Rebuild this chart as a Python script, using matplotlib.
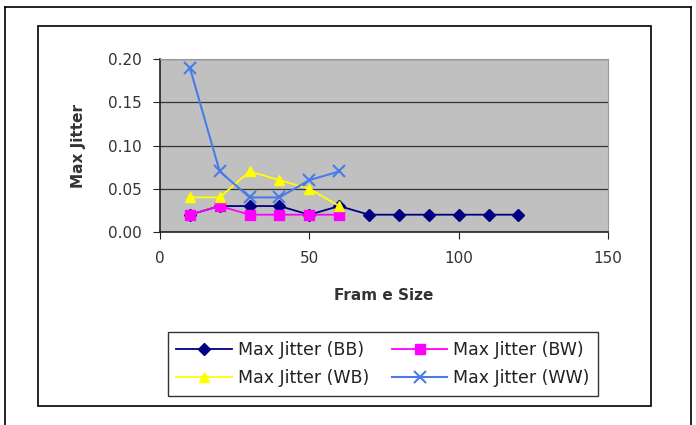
import matplotlib
matplotlib.use("Agg")
import matplotlib.pyplot as plt
from matplotlib.lines import Line2D

# data
frame_bb = [10, 20, 30, 40, 50, 60, 70, 80, 90, 100, 110, 120]
jitter_bb = [0.02, 0.03, 0.03, 0.03, 0.02, 0.03, 0.02, 0.02, 0.02, 0.02, 0.02, 0.02]
frame_short = [10, 20, 30, 40, 50, 60]
jitter_bw = [0.02, 0.03, 0.02, 0.02, 0.02, 0.02]
jitter_wb = [0.04, 0.04, 0.07, 0.06, 0.05, 0.03]
jitter_ww = [0.19, 0.07, 0.04, 0.04, 0.06, 0.07]

plt.rcParams['font.family'] = ['DejaVu Sans']
text_col = '#333333'

W, H = 696, 425
fig = plt.figure(figsize=(W / 100, H / 100), dpi=100)

def px(x, y):
    return x / W, 1 - y / H

# outer and inner frames
ox0, oy0 = px(5, 7)
ox1, _ = px(691, 7)
fig.add_artist(Line2D([ox0, ox1], [oy0, oy0], color='black', lw=1.2))
fig.add_artist(Line2D([ox0, ox0], [oy0, 0], color='black', lw=1.2))
fig.add_artist(Line2D([ox1, ox1], [oy0, 0], color='black', lw=1.2))
ix0, iy0 = px(38, 26)
ix1, iy1 = px(651, 406)
fig.add_artist(plt.Rectangle((ix0, iy1), ix1 - ix0, iy0 - iy1, fill=False,
                             edgecolor='black', lw=1.2, transform=fig.transFigure))

ax = fig.add_axes([160 / W, 1 - 232 / H, (608 - 160) / W, (232 - 59) / H])
ax.set_facecolor('#C0C0C0')

l_bb, = ax.plot(frame_bb, jitter_bb, color='#000080', marker='D', markersize=6,
                lw=1.3, label='Max Jitter (BB)')
l_bw, = ax.plot(frame_short, jitter_bw, color='#FF00FF', marker='s', markersize=7,
                lw=1.3, label='Max Jitter (BW)')
l_wb, = ax.plot(frame_short, jitter_wb, color='#FFFF00', marker='^', markersize=7,
                lw=1.3, label='Max Jitter (WB)')
l_ww, = ax.plot(frame_short, jitter_ww, color='#4A7BEA', marker='x', markersize=8,
                mew=1.5, lw=1.5, label='Max Jitter (WW)')

ax.set_xlim(0, 150)
ax.set_ylim(0, 0.20)
ax.set_xticks([0, 50, 100, 150])
ax.set_yticks([0.0, 0.05, 0.10, 0.15, 0.20])
ax.set_yticklabels(['0.00', '0.05', '0.10', '0.15', '0.20'])
ax.yaxis.grid(True, color='#333333', lw=0.9)
ax.set_axisbelow(True)
ax.tick_params(axis='both', labelsize=11, length=5, color='#222222',
               labelcolor=text_col)
ax.tick_params(axis='y', pad=8)
ax.tick_params(axis='x', pad=9)
ax.spines['left'].set_color('#222222')
ax.spines['bottom'].set_color('#222222')
ax.spines['left'].set_linewidth(1.2)
ax.spines['bottom'].set_linewidth(1.2)
ax.spines['top'].set_color('#999999')
ax.spines['right'].set_color('#999999')

ax.set_xlabel('Fram e Size', fontsize=11, fontweight='bold', labelpad=15.5,
              color=text_col)
ax.set_ylabel('Max Jitter', fontsize=11, fontweight='bold', labelpad=16,
              color=text_col)

# legend fills row by row: BB, BW / WB, WW
leg = fig.legend([l_bb, l_wb, l_bw, l_ww],
                 [l_bb.get_label(), l_wb.get_label(), l_bw.get_label(), l_ww.get_label()],
                 loc='center', bbox_to_anchor=px(383, 364), ncol=2,
                 fontsize=12.5, frameon=True, fancybox=False, edgecolor='black',
                 handlelength=3.2, columnspacing=1.3, handletextpad=0.35,
                 borderpad=0.5, labelspacing=0.62)
leg.get_frame().set_linewidth(1.0)
for t in leg.get_texts():
    t.set_color('#222222')

fig.savefig('out.png', dpi=100)
